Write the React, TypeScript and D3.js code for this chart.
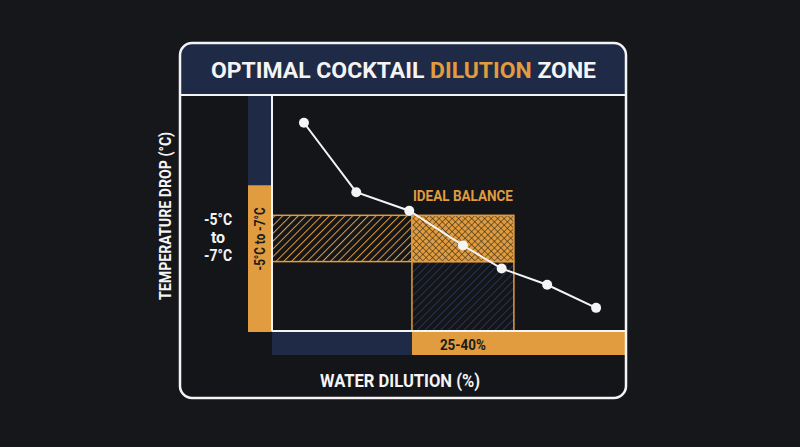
import * as d3 from "d3"

// Dilution curve
const dilution = [9.1, 16.8, 24.6, 32.5, 38.2, 44.9, 52.1]
const tempDrop = [-1.0, -4.0, -4.8, -6.3, -7.3, -8.0, -9.0]

// Ideal zone
const idealDilution = [25, 40]
const idealTemp = [-5, -7]
const tempStripSplit = -3.7

const xDomain = [4.4, 56.5]
const yDomain = [-10, 0.2]

const ORANGE = "#e09c3e"
const NAVY = "#1f2a47"
const BG = "#16171b"
const WHITE = "#f4f4f4"
const FONT = "Roboto, 'Noto Sans', sans-serif"

export default function App() {
  const W = 800
  const H = 447
  const card = { x: 180, y: 43, w: 446, h: 355 }
  const headerBottom = 95
  const plot = { left: 272, right: 626, top: headerBottom, bottom: 331 }

  const x = d3.scaleLinear().domain(xDomain).range([plot.left, plot.right])
  const y = d3.scaleLinear().domain(yDomain).range([plot.bottom, plot.top])

  const points = dilution.map((d, i) => [x(d), y(tempDrop[i])] as [number, number])
  const line = d3.line()(points) ?? ""

  const x25 = x(idealDilution[0])
  const x40 = x(idealDilution[1])
  const yHi = y(idealTemp[0])
  const yLo = y(idealTemp[1])

  const stripX = 248
  const stripBottom = plot.bottom + 24

  // header path: rounded top corners only
  const r = 12
  const headerPath = `M${card.x},${headerBottom} V${card.y + r} Q${card.x},${card.y} ${card.x + r},${card.y} H${card.x + card.w - r} Q${card.x + card.w},${card.y} ${card.x + card.w},${card.y + r} V${headerBottom} Z`

  return (
    <div style={{ position: "fixed", left: 0, top: 0, width: W, height: H, background: BG }}>
      <svg width={W} height={H} style={{ display: "block", fontFamily: FONT }}>
        <defs>
          <pattern id="hatchOrange" patternUnits="userSpaceOnUse" width={5.5} height={5.5} patternTransform="rotate(45)">
            <line x1={0} y1={0} x2={0} y2={5.5} stroke={ORANGE} strokeWidth={2} />
          </pattern>
          <pattern id="hatchNavy" patternUnits="userSpaceOnUse" width={5.5} height={5.5} patternTransform="rotate(45)">
            <line x1={0} y1={0} x2={0} y2={5.5} stroke="#2b3656" strokeWidth={1.8} />
          </pattern>
          <pattern id="crossHatch" patternUnits="userSpaceOnUse" width={4.6} height={4.6} patternTransform="rotate(45)">
            <rect width={4.6} height={4.6} fill={ORANGE} />
            <line x1={0} y1={0} x2={0} y2={4.6} stroke="#2a2418" strokeWidth={1.1} />
            <line x1={0} y1={0} x2={4.6} y2={0} stroke="#2a2418" strokeWidth={1.1} />
          </pattern>
        </defs>

        <rect width={W} height={H} fill={BG} />

        {/* card */}
        <rect x={card.x} y={card.y} width={card.w} height={card.h} rx={r} fill="#141519" />
        <path d={headerPath} fill={NAVY} />

        <text
          x={(card.x + card.x + card.w) / 2 + 0.5}
          y={78}
          textAnchor="middle"
          fontSize={22.5}
          fontWeight={700}
          textLength={385}
          lengthAdjust="spacingAndGlyphs"
          fill={WHITE}
        >
          OPTIMAL COCKTAIL <tspan fill={ORANGE}>DILUTION</tspan> ZONE
        </text>

        {/* left temperature strip */}
        <rect x={stripX} y={plot.top} width={plot.left - stripX} height={y(tempStripSplit) - plot.top} fill={NAVY} />
        <rect x={stripX} y={y(tempStripSplit)} width={plot.left - stripX} height={plot.bottom + 1 - y(tempStripSplit)} fill={ORANGE} />
        <text
          transform={`translate(${(stripX + plot.left) / 2 + 5},${(yHi + yLo) / 2 + 0.5}) rotate(-90)`}
          textAnchor="middle"
          fontSize={14}
          fontWeight={700}
          textLength={63}
          lengthAdjust="spacingAndGlyphs"
          fill="#1b1b1b"
        >
          -5°C to -7°C
        </text>

        {/* bottom dilution strip */}
        <rect x={plot.left} y={plot.bottom + 1} width={x25 - plot.left} height={stripBottom - plot.bottom - 1} fill={NAVY} />
        <rect x={x25} y={plot.bottom + 1} width={plot.right - x25} height={stripBottom - plot.bottom - 1} fill={ORANGE} />
        <text
          x={(x25 + x40) / 2}
          y={350}
          textAnchor="middle"
          fontSize={15}
          fontWeight={700}
          textLength={46}
          lengthAdjust="spacingAndGlyphs"
          fill="#1b1b1b"
        >
          25-40%
        </text>

        {/* ideal zone */}
        <rect x={plot.left} y={yHi} width={x25 - plot.left} height={yLo - yHi} fill="url(#hatchOrange)" stroke={ORANGE} strokeWidth={1.5} />
        <rect x={x25} y={yLo} width={x40 - x25} height={plot.bottom - yLo} fill="url(#hatchNavy)" stroke={ORANGE} strokeWidth={1.5} />
        <rect x={x25} y={yHi} width={x40 - x25} height={yLo - yHi} fill="url(#crossHatch)" stroke={ORANGE} strokeWidth={1.5} />

        <text
          x={(x25 + x40) / 2}
          y={201}
          textAnchor="middle"
          fontSize={15.5}
          fontWeight={700}
          textLength={100}
          lengthAdjust="spacingAndGlyphs"
          fill={ORANGE}
        >
          IDEAL BALANCE
        </text>

        {/* curve */}
        <path d={line} fill="none" stroke={WHITE} strokeWidth={2} />
        {points.map(([cx, cy], i) => (
          <circle key={i} cx={cx} cy={cy} r={5} fill={WHITE} />
        ))}

        {/* axes */}
        <line x1={plot.left} y1={plot.top} x2={plot.left} y2={plot.bottom} stroke={WHITE} strokeWidth={2} />
        <line x1={plot.left} y1={plot.bottom} x2={plot.right} y2={plot.bottom} stroke={WHITE} strokeWidth={2} />
        <line x1={card.x} y1={headerBottom} x2={card.x + card.w} y2={headerBottom} stroke={WHITE} strokeWidth={2} />

        {/* card border on top */}
        <rect x={card.x} y={card.y} width={card.w} height={card.h} rx={r} fill="none" stroke={WHITE} strokeWidth={2.5} />

        {/* temperature range label */}
        <g fill={WHITE} fontSize={16} fontWeight={700} textAnchor="middle">
          <text x={218} y={225} textLength={28} lengthAdjust="spacingAndGlyphs">-5°C</text>
          <text x={218} y={243}>to</text>
          <text x={218} y={261} textLength={28} lengthAdjust="spacingAndGlyphs">-7°C</text>
        </g>

        {/* axis titles */}
        <text
          transform="translate(171,216) rotate(-90)"
          textAnchor="middle"
          fontSize={17}
          fontWeight={700}
          textLength={168}
          lengthAdjust="spacingAndGlyphs"
          fill={WHITE}
        >
          TEMPERATURE DROP (°C)
        </text>
        <text
          x={400}
          y={387}
          textAnchor="middle"
          fontSize={19}
          fontWeight={700}
          textLength={160}
          lengthAdjust="spacingAndGlyphs"
          fill={WHITE}
        >
          WATER DILUTION (%)
        </text>
      </svg>
    </div>
  )
}
